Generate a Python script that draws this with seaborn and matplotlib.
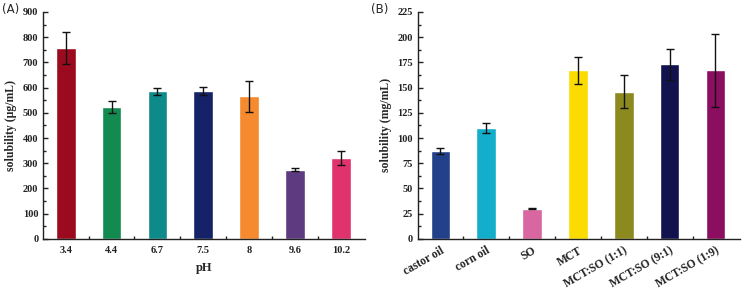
import seaborn as sns
from matplotlib import pyplot as plt
from matplotlib.ticker import MultipleLocator, FixedLocator
import pandas as pd
import numpy as np

# panel A: solubility vs pH
ph_labels = ['3.4', '4.4', '6.7', '7.5', '8', '9.6', '10.2']
ph_values = [757, 523, 586, 586, 565, 275, 320]
ph_errors = [65, 22, 14, 17, 63, 5, 27]
ph_colors = ['#9b0a1e', '#138a50', '#0e8a8a', '#152268', '#f58a2e', '#5e3a80', '#e0336e']

# panel B: solubility in oils
oil_labels = ['castor oil', 'corn oil', 'SO', 'MCT', 'MCT:SO (1:1)', 'MCT:SO (9:1)', 'MCT:SO (1:9)']
oil_values = [87, 110, 30, 167, 146, 173, 167]
oil_errors = [3, 5, 0.7, 13, 16, 15, 36]
oil_colors = ['#22418a', '#12aecb', '#d866a0', '#fcdc00', '#8c8a1e', '#12124e', '#8c0e60']

sns.set_theme(style='ticks')
plt.rcParams['font.family'] = ['Liberation Serif', 'DejaVu Serif']
plt.rcParams['font.weight'] = 'bold'

fig = plt.figure(figsize=(7.45, 2.92), dpi=100)
axA = fig.add_axes([0.058, 0.182, 0.432, 0.777])
axB = fig.add_axes([0.561, 0.182, 0.432, 0.777])


def draw(ax, labels, values, errors, colors):
    df = pd.DataFrame({'cat': labels, 'val': values, 'err': errors})
    sns.barplot(data=df, x='cat', y='val', hue='cat', palette=colors,
                order=labels, width=0.43, legend=False, ax=ax,
                saturation=1, errorbar=None)
    ax.errorbar(np.arange(len(labels)), df['val'], yerr=df['err'], fmt='none',
                ecolor='#111111', elinewidth=1.0, capsize=3, capthick=1.0)
    ax.set_xlim(-0.49, len(labels) - 0.47)
    for s in ['top', 'right']:
        ax.spines[s].set_visible(False)
    for s in ['left', 'bottom']:
        ax.spines[s].set_linewidth(1.0)
        ax.spines[s].set_color('#222222')
    ax.xaxis.set_minor_locator(FixedLocator(np.arange(len(labels) - 1) + 0.5))
    ax.tick_params(axis='both', which='both', direction='in', labelsize=7.5,
                   colors='#222222')
    ax.tick_params(which='major', length=3.5, width=1.0)
    ax.tick_params(which='minor', length=2, width=1.0)
    ax.tick_params(axis='x', which='major', length=2, pad=5)
    ax.grid(False)


draw(axA, ph_labels, ph_values, ph_errors, ph_colors)
axA.set_ylim(0, 900)
axA.yaxis.set_major_locator(MultipleLocator(100))
axA.yaxis.set_minor_locator(MultipleLocator(50))
axA.set_xlabel('pH', fontsize=9, fontweight='bold', labelpad=5)
axA.set_ylabel('solubility (μg/mL)', fontsize=8.5, fontweight='bold', labelpad=4)

draw(axB, oil_labels, oil_values, oil_errors, oil_colors)
axB.set_ylim(0, 225)
axB.yaxis.set_major_locator(MultipleLocator(25))
axB.yaxis.set_minor_locator(MultipleLocator(12.5))
axB.set_xlabel('')
axB.set_ylabel('solubility (mg/mL)', fontsize=8.5, fontweight='bold', labelpad=4)
for t in axB.get_xticklabels():
    t.set_rotation(30)
    t.set_ha('right')
    t.set_rotation_mode('anchor')
    t.set_fontsize(8.3)
axB.tick_params(axis='x', pad=4)

fig.text(0.003, 0.955, '(A)', fontsize=8.5, family='DejaVu Sans', fontweight='normal')
fig.text(0.498, 0.955, '(B)', fontsize=8.5, family='DejaVu Sans', fontweight='normal')

plt.savefig('out.png', dpi=100)
